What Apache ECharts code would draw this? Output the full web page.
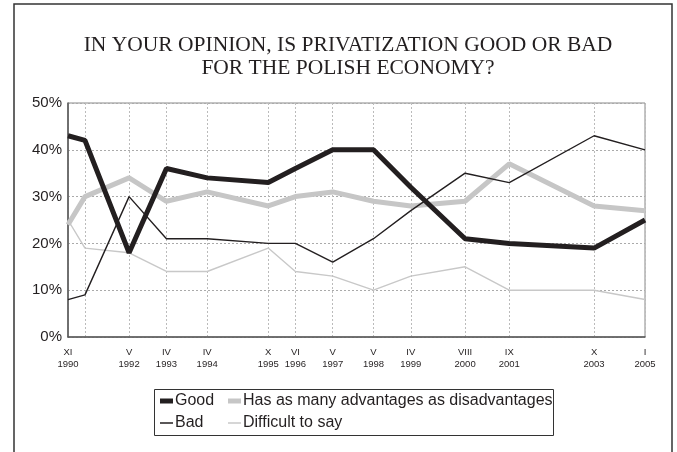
<!DOCTYPE html>
<html><head><meta charset="utf-8">
<script src="https://cdn.jsdelivr.net/npm/echarts@6/dist/echarts.min.js"></script>
<style>html,body{margin:0;padding:0;background:#fff}#c{width:677px;height:452px}</style>
</head><body><div id="c"></div>
<script>
const surveyDates = ['1990-11','1991-04','1992-05','1993-04','1994-04','1995-10','1996-06','1997-05','1998-05','1999-04','2000-08','2001-09','2003-10','2005-01'];
const monthLabels = ['XI','IV','V','IV','IV','X','VI','V','V','IV','VIII','IX','X','I'];
const yearLabels = ['1990','1991','1992','1993','1994','1995','1996','1997','1998','1999','2000','2001','2003','2005'];
const good = [43,42,18,36,34,33,36,40,40,32,21,20,19,25];
const mixed = [24,30,34,29,31,28,30,31,29,28,29,37,28,27];
const bad = [8,9,30,21,21,20,20,16,21,27,35,33,43,40];
const difficult = [25,19,18,14,14,19,14,13,10,13,15,10,10,8];
const yTicks = [0,10,20,30,40,50];

const seriesNames = ['Good','Has as many advantages as disadvantages','Bad','Difficult to say'];

const offsets = surveyDates.map(d => {
  const [y, m] = d.split('-').map(Number);
  return (y - 1990) * 12 + (m - 11);
});
const pairs = arr => arr.map((v, i) => [offsets[i], v]);

const chart = echarts.init(document.getElementById('c'), null, {renderer: 'canvas'});
const dark = '#231f20';
const grey = '#c6c6c6';
const lightGrey = '#c8c8c8';
const legendText = {fontFamily: 'Liberation Sans', fontSize: 16, lineHeight: 18, color: dark, padding: [0, 0, 0, -3]};
function legendItem(name, left, top, h) {
  return {data: [{name: name, icon: 'rect'}], orient: 'vertical', left: left, top: top, padding: 0,
          itemWidth: 13, itemHeight: h, textStyle: legendText};
}
chart.setOption({
  animation: false,
  backgroundColor: '#fff',
  title: {
    text: 'IN YOUR OPINION, IS PRIVATIZATION GOOD OR BAD\nFOR THE POLISH ECONOMY?',
    left: 343, textAlign: 'center', top: 29,
    textStyle: {fontFamily: 'Liberation Serif', fontWeight: 'normal', fontSize: 21.5, lineHeight: 23, color: dark}
  },
  graphic: [
    {type: 'rect', shape: {x: 14, y: 4, width: 658, height: 470}, style: {fill: 'none', stroke: '#333', lineWidth: 1.5}, silent: true},
    {type: 'rect', shape: {x: 154.5, y: 389.5, width: 399, height: 46}, style: {fill: 'none', stroke: '#333', lineWidth: 1}, silent: true}
  ],
  legend: [
    legendItem(seriesNames[0], 160, 392, 5),
    legendItem(seriesNames[2], 160, 414, 1.5),
    legendItem(seriesNames[1], 228, 392, 5),
    legendItem(seriesNames[3], 228, 414, 1.5)
  ],
  grid: {left: 68, right: 32, top: 103, bottom: 115, show: true, borderColor: '#888', borderWidth: 1},
  xAxis: {
    type: 'value', min: offsets[0], max: offsets[offsets.length - 1],
    axisLine: {show: true, onZero: false, lineStyle: {color: '#555', width: 1.5}},
    axisTick: {show: false, customValues: offsets},
    axisLabel: {
      customValues: offsets, showMinLabel: true, showMaxLabel: true, hideOverlap: false,
      margin: 9, fontFamily: 'Liberation Sans', fontSize: 9.5, lineHeight: 12, color: dark,
      formatter: v => { const i = offsets.indexOf(v); return i < 0 ? '' : monthLabels[i] + '\n' + yearLabels[i]; }
    },
    splitLine: {show: true, lineStyle: {color: '#bbb', type: [2, 2], width: 1}}
  },
  yAxis: {
    type: 'value', min: yTicks[0], max: yTicks[yTicks.length - 1], interval: 10,
    axisLine: {show: true, lineStyle: {color: '#555', width: 1.5}},
    axisTick: {show: false},
    axisLabel: {margin: 6, fontFamily: 'Liberation Sans', fontSize: 15, color: dark, formatter: '{value}%'},
    splitLine: {show: true, lineStyle: {color: '#aaa', type: [2, 2], width: 1}}
  },
  series: [
    {name: seriesNames[3], type: 'line', data: pairs(difficult), symbol: 'none', lineStyle: {color: lightGrey, width: 1.4}, itemStyle: {color: lightGrey}, z: 2},
    {name: seriesNames[1], type: 'line', data: pairs(mixed), symbol: 'none', lineStyle: {color: grey, width: 5}, itemStyle: {color: grey}, z: 3},
    {name: seriesNames[2], type: 'line', data: pairs(bad), symbol: 'none', lineStyle: {color: dark, width: 1.4}, itemStyle: {color: dark}, z: 4},
    {name: seriesNames[0], type: 'line', data: pairs(good), symbol: 'none', lineStyle: {color: dark, width: 5}, itemStyle: {color: dark}, z: 5}
  ]
});
</script></body></html>
